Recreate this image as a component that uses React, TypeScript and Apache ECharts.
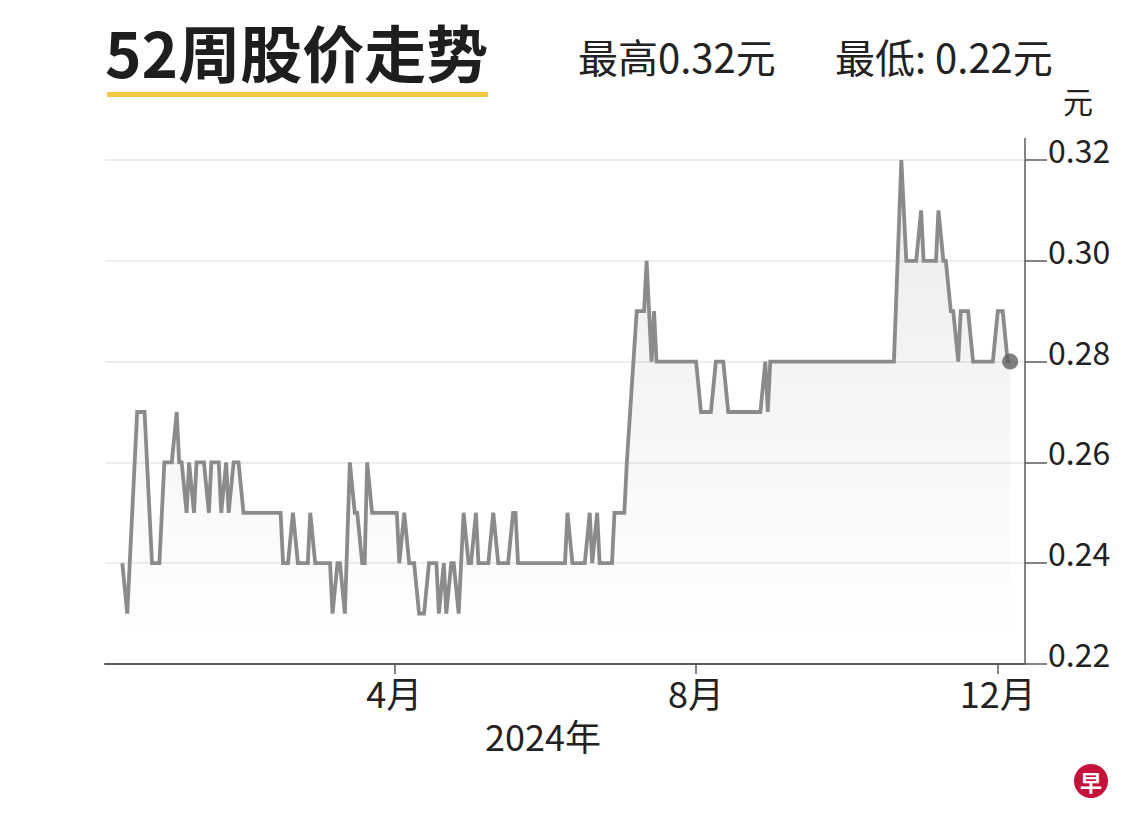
import React, { useEffect, useRef } from "react";
import * as echarts from "echarts";

// Vertices of the price line (dates and closing prices, yuan)
const dates: string[] = [
  "2023-12-13", "2023-12-15", "2023-12-17", "2023-12-19", "2023-12-22", "2023-12-25", "2023-12-28", "2023-12-30",
  "2024-01-02", "2024-01-04", "2024-01-05", "2024-01-06", "2024-01-08", "2024-01-09", "2024-01-11", "2024-01-12",
  "2024-01-15", "2024-01-17", "2024-01-18", "2024-01-21", "2024-01-22", "2024-01-24", "2024-01-25", "2024-01-27",
  "2024-01-29", "2024-01-31", "2024-02-15", "2024-02-16", "2024-02-18", "2024-02-20", "2024-02-22", "2024-02-26",
  "2024-02-27", "2024-02-29", "2024-03-06", "2024-03-07", "2024-03-09", "2024-03-10", "2024-03-12", "2024-03-14",
  "2024-03-16", "2024-03-17", "2024-03-19", "2024-03-20", "2024-03-21", "2024-03-23", "2024-04-02", "2024-04-03",
  "2024-04-05", "2024-04-07", "2024-04-09", "2024-04-11", "2024-04-13", "2024-04-15", "2024-04-18", "2024-04-19",
  "2024-04-21", "2024-04-22", "2024-04-24", "2024-04-25", "2024-04-27", "2024-04-29", "2024-05-01", "2024-05-02",
  "2024-05-04", "2024-05-05", "2024-05-09", "2024-05-11", "2024-05-13", "2024-05-17", "2024-05-19", "2024-05-20",
  "2024-05-21", "2024-06-09", "2024-06-10", "2024-06-12", "2024-06-17", "2024-06-19", "2024-06-20", "2024-06-22",
  "2024-06-23", "2024-06-28", "2024-06-29", "2024-07-03", "2024-07-04", "2024-07-08", "2024-07-11", "2024-07-12",
  "2024-07-14", "2024-07-15", "2024-07-16", "2024-08-01", "2024-08-03", "2024-08-07", "2024-08-09", "2024-08-12",
  "2024-08-14", "2024-08-27", "2024-08-29", "2024-08-30", "2024-08-31", "2024-10-20", "2024-10-23", "2024-10-25",
  "2024-10-29", "2024-10-31", "2024-11-01", "2024-11-06", "2024-11-07", "2024-11-09", "2024-11-10", "2024-11-12",
  "2024-11-13", "2024-11-15", "2024-11-16", "2024-11-19", "2024-11-21", "2024-11-29", "2024-12-01", "2024-12-03",
  "2024-12-05", "2024-12-06",
];

const prices: number[] = [
  0.24, 0.23, 0.25, 0.27, 0.27, 0.24, 0.24, 0.26,
  0.26, 0.27, 0.26, 0.26, 0.25, 0.26, 0.25, 0.26,
  0.26, 0.25, 0.26, 0.26, 0.25, 0.26, 0.25, 0.26,
  0.26, 0.25, 0.25, 0.24, 0.24, 0.25, 0.24, 0.24,
  0.25, 0.24, 0.24, 0.23, 0.24, 0.24, 0.23, 0.26,
  0.25, 0.25, 0.24, 0.24, 0.26, 0.25, 0.25, 0.24,
  0.25, 0.24, 0.24, 0.23, 0.23, 0.24, 0.24, 0.23,
  0.24, 0.23, 0.24, 0.24, 0.23, 0.25, 0.24, 0.24,
  0.25, 0.24, 0.24, 0.25, 0.24, 0.24, 0.25, 0.25,
  0.24, 0.24, 0.25, 0.24, 0.24, 0.25, 0.24, 0.25,
  0.24, 0.24, 0.25, 0.25, 0.26, 0.29, 0.29, 0.30,
  0.28, 0.29, 0.28, 0.28, 0.27, 0.27, 0.28, 0.28,
  0.27, 0.27, 0.28, 0.27, 0.28, 0.28, 0.32, 0.30,
  0.30, 0.31, 0.30, 0.30, 0.31, 0.30, 0.30, 0.29,
  0.29, 0.28, 0.29, 0.29, 0.28, 0.28, 0.29, 0.29,
  0.28, 0.28,
];

const yTicks: number[] = [0.22, 0.24, 0.26, 0.28, 0.30, 0.32];
const monthTicks: string[] = ["2024-04-01", "2024-08-01", "2024-12-01"];
const monthLabels: string[] = ["4月", "8月", "12月"];
const axisStart = "2023-12-06";
const axisEnd = "2024-12-12";

const title = "52周股价走势";
const highText = "最高0.32元";
const lowText = "最低: 0.22元";
const unitText = "元";
const yearText = "2024年";

const ts = (s: string) => new Date(s + "T00:00:00Z").getTime();
const FONT = '"Noto Sans CJK SC", "Noto Sans", sans-serif';

export default function App() {
  const ref = useRef<HTMLDivElement>(null);
  useEffect(() => {
    if (!ref.current) return;
    const chart = echarts.init(ref.current, undefined, { renderer: "svg" });
    const seriesData = dates.map((d, i) => [ts(d), prices[i]]);
    const last = seriesData[seriesData.length - 1];
    const monthTs = monthTicks.map(ts);
    chart.setOption({
      animation: false,
      backgroundColor: "#ffffff",
      grid: { left: 105, right: 115, top: 160, bottom: 165 },
      xAxis: {
        type: "value",
        min: ts(axisStart),
        max: ts(axisEnd),
        axisLine: { onZero: false, lineStyle: { color: "#5a5a5a", width: 2 } },
        axisTick: { show: true, length: 10, lineStyle: { color: "#5a5a5a", width: 1.5 }, customValues: monthTs },
        axisLabel: {
          customValues: monthTs,
          margin: 10,
          color: "#222",
          fontSize: 36,
          fontFamily: FONT,
          formatter: (v: number) => {
            const i = monthTs.indexOf(v);
            return i >= 0 ? monthLabels[i] : "";
          },
        },
        splitLine: { show: false },
      },
      yAxis: {
        type: "value",
        position: "right",
        min: yTicks[0],
        max: yTicks[yTicks.length - 1],
        interval: 0.02,
        axisLine: { show: true, lineStyle: { color: "#5a5a5a", width: 1.5 } },
        axisTick: { show: true, length: 22, lineStyle: { color: "#5a5a5a", width: 1.5 } },
        axisLabel: {
          margin: 23,
          color: "#222",
          fontSize: 32,
          lineHeight: 22,
          fontFamily: FONT,
          verticalAlign: "bottom",
          formatter: (v: number) => v.toFixed(2),
        },
        splitLine: { show: true, lineStyle: { color: "#ededed", width: 2 } },
      },
      series: [
        {
          type: "line",
          data: seriesData,
          showSymbol: false,
          symbol: "none",
          lineStyle: { color: "#8b8b8b", width: 3.8, join: "miter", miterLimit: 6 },
          areaStyle: {
            color: new echarts.graphic.LinearGradient(
              0, 160, 0, 640,
              [
                { offset: 0, color: "rgba(0,0,0,0.11)" },
                { offset: 1, color: "rgba(0,0,0,0)" },
              ],
              true
            ),
          },
          z: 2,
        },
        {
          type: "scatter",
          data: [last],
          symbol: "circle",
          symbolSize: 16,
          itemStyle: { color: "#5f5f5f" },
          z: 3,
        },
      ],
      graphic: [
        {
          type: "text",
          left: 105,
          top: 20,
          style: { text: title, font: `bold 62px ${FONT}`, fill: "#1e1e1e" },
        },
        { type: "rect", shape: { x: 107, y: 92, width: 381, height: 5 }, style: { fill: "#f3c847" } },
        {
          type: "text",
          x: 578,
          y: 56,
          style: { text: highText, font: `40px ${FONT}`, fill: "#222", textVerticalAlign: "middle" },
        },
        {
          type: "text",
          x: 835,
          y: 56,
          style: { text: lowText, font: `40px ${FONT}`, fill: "#222", textVerticalAlign: "middle" },
        },
        {
          type: "text",
          x: 1078,
          y: 100,
          style: { text: unitText, font: `30px ${FONT}`, fill: "#222", textAlign: "center", textVerticalAlign: "middle" },
        },
        {
          type: "text",
          x: 543,
          y: 735,
          style: { text: yearText, font: `36px ${FONT}`, fill: "#222", textAlign: "center", textVerticalAlign: "middle" },
        },
        { type: "line", shape: { x1: 1025, y1: 138, x2: 1025, y2: 160 }, style: { stroke: "#5a5a5a", lineWidth: 1.5 } },
        { type: "circle", shape: { cx: 1091, cy: 781, r: 17 }, style: { fill: "#c4123a" } },
        {
          type: "text",
          x: 1091,
          y: 781,
          style: { text: "早", font: `bold 22px ${FONT}`, fill: "#ffffff", textAlign: "center", textVerticalAlign: "middle" },
        },
      ],
    });
    return () => chart.dispose();
  }, []);
  return <div ref={ref} style={{ position: "fixed", left: 0, top: 0, width: 1140, height: 829 }} />;
}
